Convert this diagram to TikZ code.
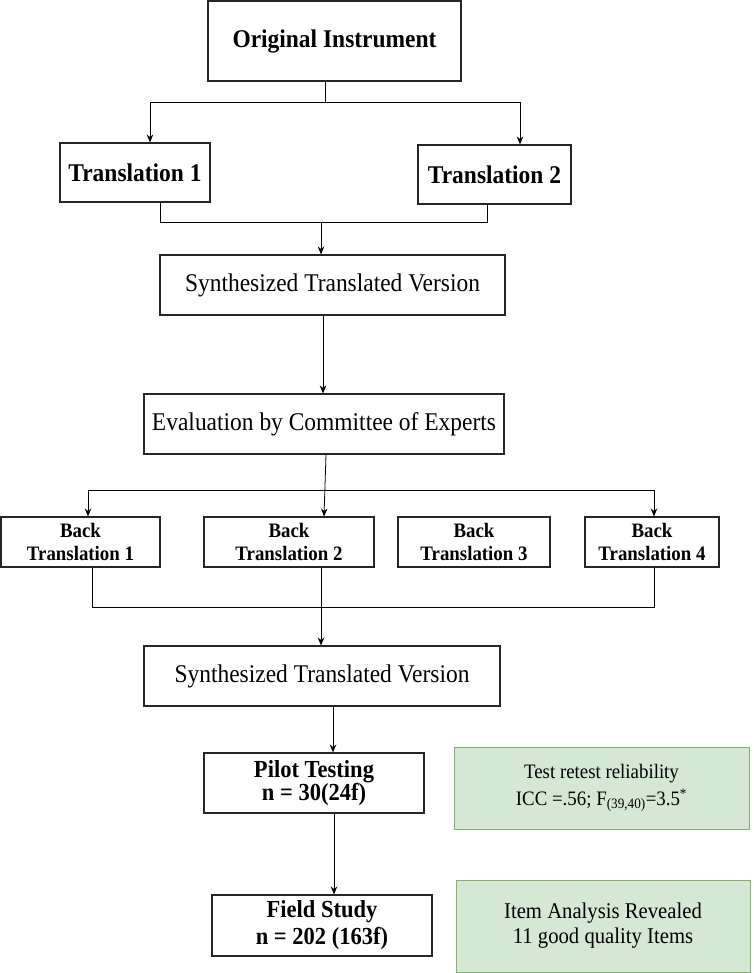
\documentclass[tikz,border=0pt]{standalone}
\usepackage{fontspec}
\setmainfont[FakeStretch=0.92]{Liberation Serif}
\usetikzlibrary{arrows.meta}
\definecolor{gfill}{HTML}{D5E8D4}
\definecolor{gline}{HTML}{82B366}
\begin{document}
\begin{tikzpicture}[x=1pt,y=-1pt,
  box/.style={draw=black!85, line width=1.1pt, rectangle, inner sep=0pt, align=center},
  bigb/.style={box, font=\fontsize{25.5}{28}\selectfont\bfseries},
  bigr/.style={box, font=\fontsize{25.5}{28}\selectfont},
  backb/.style={box, font=\fontsize{20.5}{23}\selectfont\bfseries, minimum height=50pt},
  grn/.style={rectangle, draw=gline, fill=gfill, line width=1pt, inner sep=0pt, align=center},
  conn/.style={line width=0.8pt, black},
  arr/.style={conn, -{Stealth[length=8pt,width=6.5pt]}}]
\useasboundingbox (0,0) rectangle (753,973);

\node[bigb, minimum width=253pt, minimum height=80pt] (orig) at (334.5,41) {Original Instrument};
\node[bigb, minimum width=150pt, minimum height=59pt] (t1) at (135,172.5) {Translation 1};
\node[bigb, minimum width=153pt, minimum height=59pt] (t2) at (494.5,174.5) {Translation 2};
\node[bigr, minimum width=345pt, minimum height=60pt] (syn1) at (332.5,285) {Synthesized Translated Version};
\node[bigr, minimum width=360pt, minimum height=60pt] (eval) at (324,424) {Evaluation by Committee of Experts};
\node[backb, minimum width=159pt] (bt1) at (80.5,542) {Back\\Translation 1};
\node[backb, minimum width=170pt] (bt2) at (289,542) {Back\\Translation 2};
\node[backb, minimum width=152pt] (bt3) at (474,542) {Back\\Translation 3};
\node[backb, minimum width=134pt] (bt4) at (652,542) {Back\\Translation 4};
\node[bigr, minimum width=356pt, minimum height=60pt] (syn2) at (322,676) {Synthesized Translated Version};
\node[box, font=\fontsize{24.5}{20}\selectfont\bfseries, minimum width=220pt, minimum height=60pt] (pilot) at (314,783) {Pilot Testing\\ n = 30(24f)};
\node[box, font=\fontsize{24.5}{27}\selectfont\bfseries, minimum width=220pt, minimum height=61pt] (field) at (322,925.5) {Field Study\\n = 202 (163f)};
\node[grn, font=\fontsize{20.5}{27}\selectfont, minimum width=295pt, minimum height=82pt] (g1) at (601.5,788) {Test retest reliability\\ICC =.56; F\textsubscript{(39,40)}=3.5\textsuperscript{*}};
\node[grn, font=\fontsize{22.5}{25}\selectfont, minimum width=294pt, minimum height=92pt] (g2) at (603,926) {Item Analysis Revealed\\11 good quality Items};

% Original -> translations
\coordinate (j1) at (325,102);
\coordinate (j1l) at (150,102);
\coordinate (j1r) at (520,102);
\draw[conn] (j1 |- orig.south) -- (j1);
\draw[conn] (j1l) -- (j1r);
\draw[arr] (j1l) -- (j1l |- t1.north);
\draw[arr] (j1r) -- (j1r |- t2.north);

% translations -> synthesized
\coordinate (j2l) at (160,222);
\coordinate (j2r) at (487,222);
\coordinate (j2) at (321,222);
\draw[conn] (j2l |- t1.south) -- (j2l) -- (j2r) -- (j2r |- t2.south);
\draw[arr] (j2) -- (j2 |- syn1.north);

% synthesized -> evaluation
\coordinate (j3) at (323,0);
\draw[arr] (j3 |- syn1.south) -- (j3 |- eval.north);

% evaluation -> back translations
\coordinate (j4a) at (326,0);
\coordinate (j4b) at (324,0);
\coordinate (j4l) at (88,490);
\coordinate (j4r) at (654,490);
\draw[arr] (j4a |- eval.south) -- (j4b |- bt2.north);
\draw[conn] (j4l) -- (j4r);
\draw[arr] (j4l) -- (j4l |- bt1.north);
\draw[arr] (j4r) -- (j4r |- bt4.north);

% back translations -> synthesized 2
\coordinate (j5l) at (92,607);
\coordinate (j5r) at (654,607);
\coordinate (j5) at (321,0);
\draw[conn] (j5l |- bt1.south) -- (j5l) -- (j5r) -- (j5r |- bt4.south);
\draw[arr] (j5 |- bt2.south) -- (j5 |- syn2.north);

% synthesized 2 -> pilot -> field
\coordinate (j6) at (333,0);
\draw[arr] (j6 |- syn2.south) -- (j6 |- pilot.north);
\coordinate (j7) at (334,0);
\draw[arr] (j7 |- pilot.south) -- (j7 |- field.north);
\end{tikzpicture}
\end{document}
